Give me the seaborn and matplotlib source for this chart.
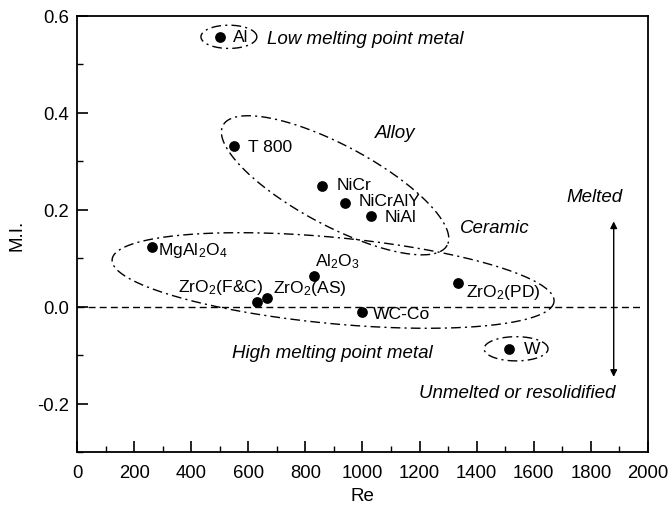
import numpy as np
import pandas as pd
import matplotlib
matplotlib.use("Agg")
import matplotlib.pyplot as plt
import seaborn as sns

# Materials: Reynolds number vs. melting index
materials = ["Al", "T 800", "NiCr", "NiCrAlY", "NiAl", "MgAl2O4", "Al2O3",
             "ZrO2(F&C)", "ZrO2(AS)", "WC-Co", "ZrO2(PD)", "W"]
re_values = [500, 550, 858, 939, 1030, 263, 830, 630, 665, 1000, 1335, 1513]
mi_values = [0.557, 0.331, 0.250, 0.213, 0.188, 0.124, 0.064, 0.010, 0.018,
             -0.012, 0.049, -0.087]
point_labels = ["Al", "T 800", "NiCr", "NiCrAlY", "NiAl", r"MgAl$_2$O$_4$",
                r"Al$_2$O$_3$", r"ZrO$_2$(F&C)", r"ZrO$_2$(AS)", "WC-Co",
                r"ZrO$_2$(PD)", "W"]
label_pos = [(547, 0.557), (600, 0.331), (911, 0.252), (988, 0.220),
             (1079, 0.186), (284, 0.118), (835, 0.095), (353, 0.041),
             (687, 0.040), (1037, -0.015), (1362, 0.032), (1566, -0.087)]

# Group outlines: centre, first and second conjugate semi-axis vectors
groups = [
    ((532, 0.557), (98, 0.0), (0.0, 0.024)),          # low melting point metal
    ((904, 0.2505), (392.8, -0.1236), (-65.8, -0.0731)),  # alloy
    ((897, 0.054), (774, -0.0434), (-14.2, -0.0886)),  # ceramic
    ((1538, -0.087), (112, 0.0), (0.0, 0.025)),         # high melting (W)
]

group_texts = ["Low melting point metal", "Alloy", "Ceramic", "Melted",
               "Unmelted or resolidified", "High melting point metal"]
group_text_pos = [(665, 0.553), (1044, 0.36), (1341, 0.163), (1814, 0.228),
                  (1541, -0.178), (543, -0.095)]
group_text_ha = ["left", "left", "left", "center", "center", "left"]

sns.set_style("ticks")
plt.rcParams["font.family"] = ["Liberation Sans", "DejaVu Sans"]
plt.rcParams["mathtext.fontset"] = "custom"
plt.rcParams["mathtext.rm"] = "Liberation Sans"
plt.rcParams["mathtext.it"] = "Liberation Sans:italic"
plt.rcParams["mathtext.default"] = "regular"
plt.rcParams["text.color"] = "black"
plt.rcParams["axes.labelcolor"] = "black"
plt.rcParams["xtick.color"] = "black"
plt.rcParams["ytick.color"] = "black"

fig = plt.figure(figsize=(6.68, 5.10), dpi=100)
ax = fig.add_axes([0.1153, 0.1118, 0.8547, 0.8549])

df = pd.DataFrame({"Re": re_values, "MI": mi_values, "material": materials})
sns.scatterplot(data=df, x="Re", y="MI", color="black", s=60,
                edgecolor="black", linewidth=0, ax=ax, zorder=3)

# Zero reference line
ax.plot([0, 1975], [0, 0], color="black", lw=1.0, ls=(0, (5, 3)), zorder=1)

# Group outlines
t = np.linspace(0, 2 * np.pi, 400)
for (cx, cy), (ax1, ay1), (bx1, by1) in groups:
    xs = cx + ax1 * np.cos(t) + bx1 * np.sin(t)
    ys = cy + ay1 * np.cos(t) + by1 * np.sin(t)
    ax.plot(xs, ys, color="black", lw=1.0, ls=(0, (7, 3, 1.5, 3)), zorder=2)

# Point labels
for lab, (lx, ly) in zip(point_labels, label_pos):
    ax.text(lx, ly, lab, fontsize=12.6, va="center", ha="left", color="black")

# Group captions
for txt, (tx, ty), ha in zip(group_texts, group_text_pos, group_text_ha):
    ax.text(tx, ty, txt, fontsize=13.5, style="italic", va="center", ha=ha,
            color="black")

# Melted / unmelted arrow
ax.annotate("", xy=(1880, 0.176), xytext=(1880, -0.145),
            arrowprops=dict(arrowstyle="<|-|>", color="black", lw=1.0,
                            mutation_scale=10, shrinkA=0, shrinkB=0))

ax.set_xlim(0, 2000)
ax.set_ylim(-0.3, 0.6)
ax.set_xticks(np.arange(0, 2001, 200))
ax.set_xticks(np.arange(0, 2001, 100), minor=True)
ax.set_yticks([-0.2, 0.0, 0.2, 0.4, 0.6])
ax.set_yticklabels(["-0.2", "0.0", "0.2", "0.4", "0.6"])
ax.set_yticks(np.arange(-0.3, 0.61, 0.1), minor=True)
ax.tick_params(which="major", direction="in", length=8, width=1.2,
               labelsize=13.3, top=False, right=False)
ax.tick_params(axis="x", which="major", pad=9)
ax.tick_params(axis="y", which="major", pad=6)
ax.tick_params(which="minor", direction="in", length=4.5, width=1.0,
               top=False, right=False)
ax.set_xlabel("Re", fontsize=13.5, labelpad=4)
ax.set_ylabel("M.I.", fontsize=13.5, labelpad=8)
for sp in ax.spines.values():
    sp.set_visible(True)
    sp.set_linewidth(1.3)
    sp.set_color("black")

fig.savefig("out.png", dpi=100)
